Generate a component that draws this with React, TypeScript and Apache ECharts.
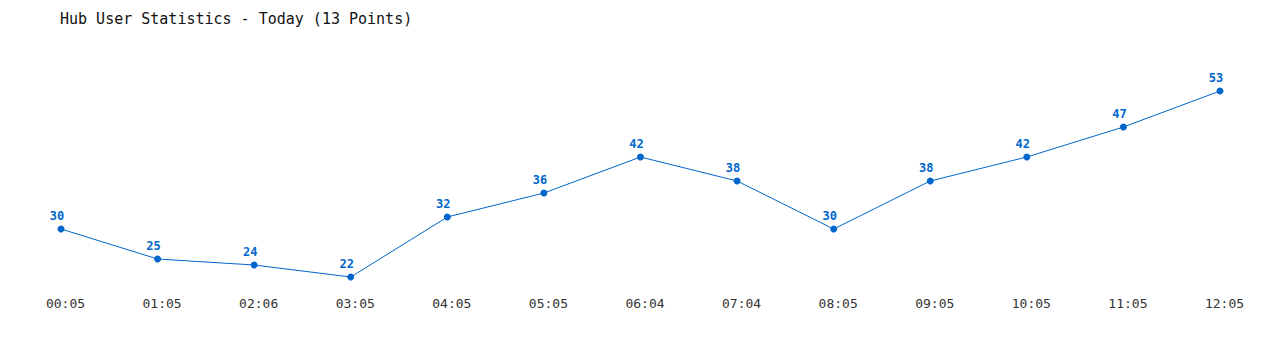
import React, { useEffect, useRef } from "react";
import * as echarts from "echarts";

const categories = ["00:05", "01:05", "02:06", "03:05", "04:05", "05:05", "06:04", "07:04", "08:05", "09:05", "10:05", "11:05", "12:05"];
const users = [30, 25, 24, 22, 32, 36, 42, 38, 30, 38, 42, 47, 53];
const titleText = "Hub User Statistics - Today (13 Points)";

export default function App() {
  const ref = useRef<HTMLDivElement>(null);
  useEffect(() => {
    const chart = echarts.init(ref.current!, null, { renderer: "svg" });
    chart.setOption({
      animation: false,
      backgroundColor: "#ffffff",
      title: {
        text: titleText,
        left: 55,
        top: 6,
        textStyle: { fontFamily: "DejaVu Sans Mono", fontSize: 15, fontWeight: "normal", color: "#111" },
      },
      grid: { left: 61, right: 60, top: 91, bottom: 73 },
      xAxis: {
        type: "category",
        data: categories,
        boundaryGap: false,
        axisLine: { show: false },
        axisTick: { show: false },
        splitLine: { show: false },
        axisLabel: {
          margin: 20,
          padding: [0, 0, 0, 9],
          fontFamily: "DejaVu Sans Mono",
          fontSize: 13,
          color: "#333",
          interval: 0,
        },
      },
      yAxis: {
        type: "value",
        min: "dataMin",
        max: "dataMax",
        show: false,
        splitLine: { show: false },
      },
      series: [
        {
          type: "line",
          data: users,
          symbol: "circle",
          symbolSize: 7,
          lineStyle: { color: "#0066cc", width: 1 },
          itemStyle: { color: "#0066cc" },
          label: {
            show: true,
            position: "top",
            distance: 4,
            offset: [-4, 0],
            fontFamily: "DejaVu Sans Mono",
            fontSize: 12,
            fontWeight: "bold",
            color: "#0066cc",
          },
        },
      ],
    });
    return () => chart.dispose();
  }, []);
  return <div ref={ref} style={{ width: 1280, height: 350, position: "absolute", left: 0, top: 0 }} />;
}
